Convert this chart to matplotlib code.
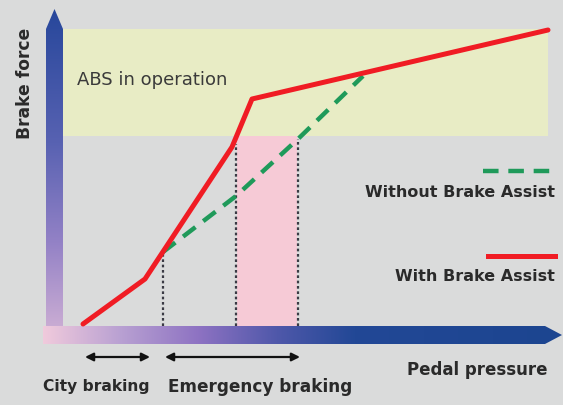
import numpy as np
import matplotlib
matplotlib.use("Agg")
import matplotlib.pyplot as plt
from matplotlib.colors import LinearSegmentedColormap
from matplotlib.patches import Polygon, Rectangle

# ---- data (pedal pressure vs brake force, arbitrary units) ----
with_ba_x = [28, 90, 177, 197, 493]
with_ba_y = [11, 56, 188, 236, 305]
without_ba_x = [108, 181, 243, 308]
without_ba_y = [83, 139, 196, 259]
marker_x = [108, 181, 243]
marker_top = [83, 191, 196]
abs_band_x = [7, 493]
abs_band_y = [199, 306]
pink_band_x = [182, 242]
city_range = [30, 95]
emergency_range = [110, 245]

labels = {
    "abs": "ABS in operation",
    "ylabel": "Brake force",
    "xlabel": "Pedal pressure",
    "without": "Without Brake Assist",
    "with": "With Brake Assist",
    "city": "City braking",
    "emergency": "Emergency braking",
}

BG = "#dadbdb"
fig = plt.figure(figsize=(5.63, 4.06), dpi=100, facecolor=BG)
ax = fig.add_axes([0, 0, 1, 1])
ax.set_facecolor(BG)
ax.set_xlim(-55, 508)
ax.set_ylim(-70, 336)
ax.axis("off")

# ABS band
ax.add_patch(Rectangle((abs_band_x[0], abs_band_y[0]), abs_band_x[1] - abs_band_x[0],
                       abs_band_y[1] - abs_band_y[0], facecolor="#e8ecc5", edgecolor="none", zorder=1))
# Pink band
ax.add_patch(Rectangle((pink_band_x[0], 9), pink_band_x[1] - pink_band_x[0],
                       abs_band_y[0] - 9, facecolor="#f6cad6", edgecolor="none", zorder=1))

# gradient axes
xcmap = LinearSegmentedColormap.from_list("xax", [
    (0.0, "#f0cadc"), (0.15, "#b8a0d2"), (0.3, "#8d72c2"),
    (0.45, "#4f58aa"), (0.6, "#224896"), (1.0, "#1c4590")])
ycmap = LinearSegmentedColormap.from_list("yax", [
    (0.0, "#d4b4d6"), (0.3, "#9482c6"), (0.6, "#5862b2"), (1.0, "#27479b")])

grad = np.linspace(0, 1, 256)
x0, x1 = -12, 508
im = ax.imshow(grad[None, :], cmap=xcmap, extent=[x0, x1, -9, 9], aspect="auto",
               zorder=3, interpolation="bilinear")
xpoly = Polygon([(x0, -9), (x0, 9), (490, 9), (507, 0), (490, -9)], closed=True,
                facecolor="none", edgecolor="none", transform=ax.transData)
ax.add_patch(xpoly)
im.set_clip_path(xpoly)

y0, y1 = -9, 326
im2 = ax.imshow(grad[:, None], cmap=ycmap, extent=[-9, 8, y0, y1], origin="lower",
                aspect="auto", zorder=2, interpolation="bilinear")
ypoly = Polygon([(-9, y0), (-9, 306), (-0.5, y1), (8, 306), (8, y0)], closed=True,
                facecolor="none", edgecolor="none", transform=ax.transData)
ax.add_patch(ypoly)
im2.set_clip_path(ypoly)

# dotted markers
for mx, mt in zip(marker_x, marker_top):
    ax.plot([mx, mx], [9, mt], color="#3a3a44", lw=1.6, ls=(0, (1.2, 1.2)), zorder=4)

# lines
ax.plot(without_ba_x, without_ba_y, color="#1f9a5a", lw=3.2, ls=(0, (3.5, 2.2)),
        solid_capstyle="butt", zorder=5)
ax.plot(with_ba_x, with_ba_y, color="#f01c24", lw=3.6, solid_joinstyle="round",
        solid_capstyle="round", zorder=6)

# legend
ax.plot([428, 500], [164, 164], color="#1f9a5a", lw=3.2, ls=(0, (3.5, 2.2)), zorder=5)
ax.text(500, 143, labels["without"], ha="right", va="center", fontsize=11.5,
        fontweight="bold", color="#2a2a2a")
ax.plot([433, 500], [79, 79], color="#f01c24", lw=3.6, zorder=6)
ax.text(500, 59, labels["with"], ha="right", va="center", fontsize=11.5,
        fontweight="bold", color="#2a2a2a")

# texts
ax.text(22, 256, labels["abs"], ha="left", va="center", fontsize=13, color="#3a3a3a")
ax.text(-30, 253, labels["ylabel"], ha="center", va="center", rotation=90,
        fontsize=12.3, fontweight="bold", color="#2a2a2a")
ax.text(422, -34, labels["xlabel"], ha="center", va="center", fontsize=12,
        fontweight="bold", color="#2a2a2a")
ax.text(41, -51, labels["city"], ha="center", va="center", fontsize=11.2,
        fontweight="bold", color="#2a2a2a")
ax.text(205, -51, labels["emergency"], ha="center", va="center", fontsize=12.2,
        fontweight="bold", color="#2a2a2a")

# range arrows
for rng in (city_range, emergency_range):
    ax.annotate("", xy=(rng[0], -22), xytext=(rng[1], -22),
                arrowprops=dict(arrowstyle="<|-|>", color="#111111", lw=1.6,
                                mutation_scale=12, shrinkA=0, shrinkB=0))

fig.savefig("out.png", dpi=100, facecolor=BG)
